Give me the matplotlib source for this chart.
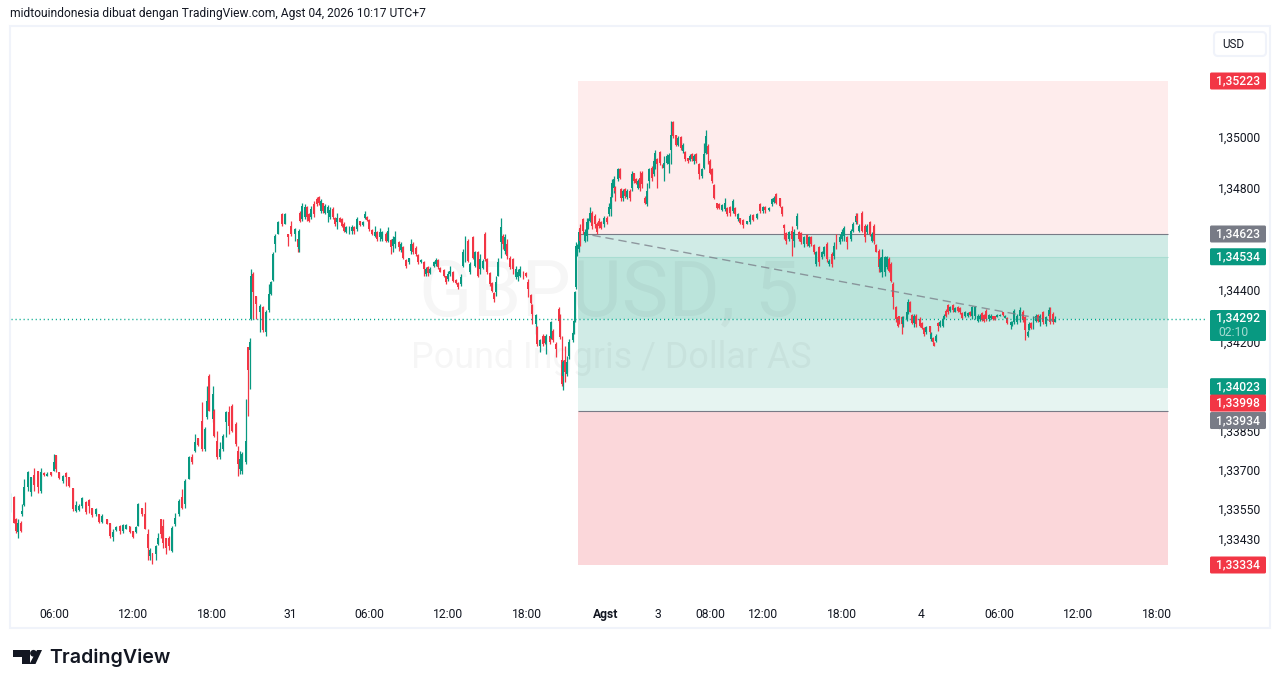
"""GBPUSD 5 minute chart with two position tools, TradingView snapshot look."""

import math

import matplotlib

matplotlib.use("Agg")
import matplotlib.pyplot as plt
from matplotlib.patches import Circle, FancyBboxPatch, Polygon, Rectangle
from matplotlib.ticker import NullLocator
from matplotlib.transforms import ScaledTranslation

plt.rcParams["font.family"] = ["Roboto", "DejaVu Sans"]

GREEN = "#089981"
RED = "#f23645"
GREY = "#787b86"
INK = "#131722"
BORDER = "#f0f3fa"

# candle data, bar = number of 5 minute bars after the first 06:00, prices in 1e-5
bars = [
    -40, -37, -35, -33, -30, -29, -27, -24, -21, -18, -15, -12, -9, -6, -3, 0, 2, 5, 8, 11, 14, 17, 20, 23, 26, 29, 32, 35, 38, 41,
    44, 48, 51, 54, 57, 60, 63, 66, 69, 72, 75, 77, 80, 83, 86, 88, 90, 93, 95, 98, 100, 102, 105, 108, 111, 114, 117, 120, 123, 126,
    129, 132, 135, 138, 140, 142, 145, 146, 149, 152, 154, 157, 160, 163, 166, 168, 170, 172, 175, 177, 179, 180, 182, 185, 188, 191, 194, 196, 198, 200,
    202, 205, 208, 211, 214, 217, 220, 223,
    224, 225, 227, 229, 231, 233, 235, 238, 240, 242, 244, 246, 248, 250, 252, 255, 257, 259, 261, 263, 265, 267, 270, 272, 274, 277, 280, 282, 284, 286,
    288, 291, 293, 295, 298, 300, 303, 305, 308, 310, 312, 315, 317, 319, 322, 324, 326, 328, 331, 333, 335, 338, 340, 342, 344, 347, 349, 351, 353, 356,
    358, 360, 362, 365, 367, 369, 372, 374, 376, 378, 380, 383, 385, 387, 389, 392, 394, 396, 398, 400, 402, 404, 406, 408, 410, 412, 414, 417, 419, 422,
    424, 426, 429, 431, 433, 436, 437, 440, 441, 444, 447, 449, 450, 453, 454, 456, 459, 461, 462, 464, 465, 467, 469, 471, 474, 475,
    476, 477, 478, 480, 481, 483, 485, 487, 488, 490, 492, 494, 496, 498, 500, 503, 505, 507, 509, 510, 512, 513, 515, 517, 518, 520, 522, 524, 526, 528,
    530, 532, 534, 535, 537, 540, 542, 544, 546, 548, 549, 551, 554, 556, 557, 560, 562, 564, 566, 568, 570, 573, 575, 577, 579, 581, 583, 585, 587, 589,
    592, 594, 596, 598, 599, 601, 603, 606, 608, 610, 613, 615, 618, 620, 622, 625, 627, 630, 633, 636, 639, 642, 645, 648, 650, 653, 656, 658, 660, 663,
    665, 667, 669, 672, 674, 676, 679, 681, 683, 685, 688, 690, 692, 694, 696, 699, 702, 704, 706, 708, 711, 713, 715, 718, 720, 722, 725, 728, 730, 733,
    734, 736, 738, 741, 743, 746, 747, 749, 751, 754, 755, 757, 759, 761, 763, 765, 767, 769, 771,
    772, 775, 776, 779, 780, 782, 784, 786, 788, 791, 793, 795, 797, 800, 801, 803, 804, 806, 808, 810, 812, 813, 815, 817, 819, 821, 823, 826, 828, 830,
    832, 835, 837, 839, 842, 844, 846, 848, 850, 852, 854, 856, 858, 860, 862, 864, 867, 869, 871, 874, 875, 877, 880, 883, 885, 887, 890, 891, 893, 895,
    897, 899, 901, 904, 906, 909, 910, 913, 915,
]
highs = [
    133612, 133602, 133517, 133511, 133505, 133570, 133667, 133700, 133674, 133709, 133700, 133709, 133693, 133693, 133696, 133763, 133761, 133693, 133683, 133696,
    133677, 133631, 133583, 133570, 133599, 133583, 133589, 133557, 133557, 133530, 133530, 133511, 133498, 133472, 133485, 133488, 133492, 133492, 133485, 133466,
    133485, 133573, 133557, 133579, 133472, 133401, 133381, 133410, 133459, 133514, 133511, 133440, 133446, 133485, 133537, 133589, 133628, 133667, 133758, 133765,
    133842, 133829, 133966, 133868, 134031, 134077, 134031, 133940, 133856, 133810, 133842, 133934, 133953, 133959, 133888, 133797, 133778, 133771, 133979, 134181,
    134216, 134486, 134473, 134382, 134350, 134343, 134324, 134427, 134440, 134551, 134623, 134675, 134707, 134707, 134623, 134675, 134648, 134603,
    134642, 134713, 134746, 134740, 134733, 134707, 134733, 134752, 134766, 134772, 134759, 134746, 134740, 134736, 134727, 134727, 134688, 134707, 134688, 134684,
    134668, 134655, 134655, 134658, 134655, 134691, 134675, 134675, 134713, 134694, 134681, 134642, 134655, 134636, 134645, 134636, 134629, 134652, 134603, 134616,
    134636, 134597, 134590, 134577, 134525, 134531, 134603, 134590, 134577, 134544, 134525, 134519, 134492, 134499, 134492, 134519, 134528, 134525, 134492, 134486,
    134460, 134479, 134496, 134479, 134447, 134434, 134467, 134564, 134616, 134603, 134512, 134616, 134558, 134558, 134545, 134525, 134629, 134531, 134473, 134434,
    134395, 134460, 134531, 134684, 134623, 134623, 134603, 134538, 134531, 134496, 134486, 134496, 134479, 134473, 134447, 134388, 134349, 134310, 134265, 134213,
    134232, 134226, 134232, 134226, 134284, 134252, 134200, 134337, 134310, 134226, 134129, 134187, 134148, 134213, 134245, 134291,
    134401, 134590, 134584, 134642, 134661, 134687, 134642, 134687, 134687, 134730, 134713, 134700, 134668, 134687, 134674, 134694, 134694, 134746, 134785, 134837,
    134850, 134811, 134882, 134882, 134805, 134798, 134805, 134798, 134798, 134869, 134863, 134843, 134837, 134869, 134869, 134772, 134824, 134882, 134889, 134921,
    134954, 134921, 134947, 134896, 134928, 134935, 134941, 135067, 135067, 135012, 135006, 135006, 134980, 134947, 134921, 134935, 134941, 134935, 134941, 134902,
    134882, 134980, 135032, 134974, 134915, 134883, 134818, 134746, 134746, 134740, 134765, 134727, 134733, 134759, 134727, 134707, 134687, 134681, 134675, 134701,
    134701, 134707, 134743, 134733, 134733, 134727, 134765, 134772, 134782, 134765, 134733, 134662, 134629, 134636, 134655, 134642, 134707, 134636, 134629, 134616,
    134622, 134616, 134616, 134584, 134557, 134577, 134557, 134577, 134590, 134525, 134551, 134590, 134622, 134622, 134642, 134655, 134616, 134642, 134668, 134707,
    134707, 134661, 134713, 134661, 134661, 134674, 134629, 134661, 134584, 134564, 134532, 134564, 134538, 134538, 134532, 134512, 134434, 134343, 134304,
    134304, 134304, 134304, 134323, 134369, 134363, 134310, 134310, 134310, 134298, 134278, 134259, 134265, 134265, 134239, 134220, 134200, 134233, 134278, 134285,
    134298, 134310, 134330, 134350, 134343, 134350, 134336, 134343, 134336, 134317, 134323, 134317, 134323, 134343, 134343, 134310, 134310, 134317, 134310, 134330,
    134310, 134310, 134304, 134304, 134310, 134310, 134320, 134307, 134298, 134284, 134284, 134330, 134310, 134337, 134324, 134304, 134246, 134278, 134278, 134304,
    134310, 134310, 134310, 134323, 134304, 134337, 134337, 134317, 134304,
]
lows = [
    133540, 133498, 133459, 133440, 133462, 133524, 133563, 133622, 133602, 133622, 133615, 133615, 133680, 133680, 133680, 133700, 133693, 133667, 133654, 133641,
    133635, 133544, 133540, 133544, 133557, 133533, 133537, 133521, 133524, 133498, 133498, 133492, 133440, 133427, 133466, 133453, 133459, 133472, 133459, 133440,
    133459, 133485, 133524, 133472, 133355, 133355, 133336, 133355, 133413, 133440, 133401, 133375, 133394, 133384, 133485, 133524, 133550, 133557, 133667, 133726,
    133771, 133797, 133778, 133778, 133901, 133934, 133888, 133830, 133745, 133745, 133778, 133830, 133842, 133849, 133797, 133680, 133687, 133687, 133725, 133914,
    134018, 134285, 134291, 134291, 134239, 134239, 134226, 134317, 134385, 134440, 134551, 134623, 134655, 134661, 134577, 134616, 134597, 134554,
    134554, 134668, 134675, 134681, 134675, 134668, 134681, 134688, 134733, 134736, 134707, 134707, 134700, 134668, 134681, 134681, 134655, 134642, 134668, 134649,
    134629, 134626, 134623, 134623, 134623, 134636, 134655, 134655, 134681, 134675, 134636, 134619, 134610, 134597, 134597, 134597, 134590, 134590, 134545, 134551,
    134570, 134557, 134551, 134525, 134489, 134505, 134544, 134544, 134538, 134505, 134510, 134460, 134460, 134460, 134467, 134492, 134499, 134486, 134473, 134454,
    134428, 134440, 134460, 134434, 134428, 134408, 134421, 134492, 134512, 134512, 134467, 134525, 134492, 134454, 134467, 134486, 134519, 134467, 134421, 134395,
    134359, 134382, 134460, 134531, 134564, 134545, 134525, 134486, 134467, 134447, 134440, 134454, 134447, 134454, 134375, 134349, 134271, 134232, 134187, 134161,
    134187, 134194, 134155, 134194, 134213, 134200, 134141, 134278, 134213, 134031, 134012, 134044, 134070, 134135, 134200, 134232,
    134278, 134408, 134538, 134551, 134577, 134622, 134590, 134597, 134642, 134668, 134642, 134648, 134622, 134648, 134642, 134652, 134661, 134694, 134694, 134769,
    134785, 134752, 134830, 134837, 134752, 134752, 134765, 134759, 134752, 134791, 134824, 134817, 134798, 134791, 134805, 134740, 134733, 134805, 134830, 134850,
    134876, 134805, 134895, 134883, 134831, 134896, 134863, 134896, 134999, 134967, 134967, 134954, 134941, 134909, 134902, 134909, 134909, 134896, 134902, 134837,
    134841, 134876, 134935, 134896, 134857, 134824, 134759, 134720, 134720, 134713, 134713, 134694, 134694, 134707, 134694, 134675, 134662, 134648, 134662, 134662,
    134675, 134681, 134707, 134707, 134707, 134713, 134733, 134746, 134740, 134727, 134694, 134603, 134583, 134597, 134538, 134571, 134642, 134597, 134583, 134571,
    134577, 134571, 134577, 134545, 134499, 134499, 134525, 134538, 134512, 134499, 134493, 134525, 134564, 134583, 134597, 134597, 134564, 134597, 134629, 134661,
    134661, 134629, 134629, 134590, 134622, 134616, 134590, 134583, 134551, 134473, 134473, 134453, 134460, 134486, 134473, 134434, 134330, 134278, 134258,
    134271, 134233, 134259, 134284, 134310, 134317, 134271, 134259, 134259, 134259, 134252, 134226, 134233, 134233, 134206, 134193, 134184, 134200, 134245, 134259,
    134259, 134291, 134298, 134310, 134317, 134317, 134317, 134317, 134310, 134291, 134298, 134298, 134304, 134291, 134291, 134278, 134284, 134284, 134281, 134284,
    134284, 134291, 134288, 134288, 134298, 134301, 134304, 134294, 134272, 134252, 134265, 134272, 134272, 134278, 134278, 134210, 134220, 134246, 134252, 134252,
    134278, 134278, 134265, 134272, 134265, 134298, 134272, 134272, 134278,
]
opens = [
    133544, 133596, 133514, 133462, 133498, 133530, 133566, 133635, 133618, 133683, 133700, 133622, 133690, 133680, 133693, 133700, 133761, 133693, 133661, 133690,
    133677, 133631, 133544, 133547, 133563, 133579, 133586, 133557, 133530, 133530, 133501, 133511, 133498, 133443, 133469, 133485, 133466, 133475, 133485, 133466,
    133462, 133485, 133557, 133530, 133456, 133368, 133381, 133375, 133417, 133511, 133485, 133440, 133440, 133388, 133492, 133530, 133596, 133570, 133667, 133752,
    133778, 133826, 133895, 133784, 133907, 134070, 133901, 133934, 133817, 133752, 133784, 133888, 133927, 133953, 133882, 133778, 133706, 133700, 133732, 134181,
    134168, 134291, 134467, 134382, 134317, 134337, 134239, 134324, 134388, 134445, 134584, 134623, 134700, 134661, 134623, 134655, 134623, 134603,
    134564, 134707, 134681, 134688, 134727, 134700, 134688, 134740, 134759, 134766, 134713, 134743, 134707, 134707, 134688, 134720, 134684, 134668, 134684, 134681,
    134662, 134629, 134629, 134636, 134652, 134642, 134672, 134658, 134684, 134691, 134678, 134639, 134616, 134632, 134610, 134603, 134623, 134597, 134600, 134577,
    134583, 134590, 134561, 134571, 134522, 134512, 134557, 134584, 134570, 134541, 134512, 134515, 134467, 134492, 134470, 134499, 134505, 134522, 134490, 134483,
    134457, 134447, 134467, 134473, 134444, 134431, 134428, 134499, 134519, 134597, 134473, 134610, 134499, 134551, 134486, 134489, 134623, 134525, 134470, 134431,
    134392, 134395, 134460, 134590, 134616, 134557, 134584, 134531, 134525, 134454, 134454, 134460, 134476, 134470, 134434, 134385, 134346, 134271, 134258, 134187,
    134226, 134223, 134194, 134223, 134216, 134245, 134194, 134330, 134304, 134129, 134070, 134129, 134076, 134148, 134207, 134239,
    134285, 134415, 134551, 134564, 134648, 134681, 134597, 134616, 134648, 134674, 134707, 134694, 134661, 134674, 134668, 134661, 134687, 134701, 134720, 134778,
    134805, 134808, 134837, 134879, 134801, 134762, 134798, 134769, 134791, 134805, 134860, 134840, 134805, 134843, 134863, 134765, 134740, 134830, 134882, 134857,
    134889, 134915, 134944, 134893, 134883, 134902, 134896, 134954, 135061, 135009, 134973, 135003, 134947, 134944, 134919, 134912, 134935, 134909, 134935, 134896,
    134850, 134883, 134941, 134967, 134909, 134876, 134814, 134743, 134741, 134717, 134720, 134724, 134729, 134713, 134724, 134681, 134685, 134678, 134664, 134668,
    134697, 134684, 134740, 134713, 134730, 134716, 134740, 134749, 134778, 134762, 134730, 134658, 134626, 134603, 134636, 134597, 134655, 134632, 134625, 134584,
    134619, 134577, 134612, 134580, 134505, 134571, 134532, 134545, 134584, 134505, 134545, 134538, 134616, 134590, 134603, 134616, 134612, 134603, 134636, 134668,
    134701, 134636, 134707, 134655, 134629, 134668, 134597, 134655, 134580, 134557, 134486, 134473, 134473, 134492, 134525, 134505, 134427, 134336, 134298,
    134301, 134298, 134271, 134291, 134317, 134356, 134307, 134275, 134304, 134291, 134275, 134256, 134242, 134262, 134213, 134217, 134197, 134203, 134275, 134262,
    134265, 134294, 134323, 134346, 134323, 134346, 134320, 134339, 134333, 134314, 134301, 134304, 134320, 134304, 134304, 134284, 134291, 134313, 134307, 134323,
    134291, 134294, 134301, 134303, 134300, 134304, 134317, 134296, 134295, 134268, 134269, 134278, 134278, 134304, 134317, 134298, 134223, 134249, 134275, 134259,
    134284, 134307, 134278, 134317, 134271, 134304, 134311, 134311, 134281,
]
closes = [
    133602, 133498, 133466, 133498, 133466, 133544, 133635, 133696, 133674, 133644, 133635, 133693, 133683, 133688, 133685, 133735, 133706, 133670, 133680, 133674,
    133641, 133550, 133566, 133563, 133592, 133540, 133563, 133527, 133550, 133501, 133524, 133493, 133446, 133462, 133483, 133466, 133488, 133489, 133462, 133443,
    133483, 133570, 133530, 133472, 133401, 133394, 133355, 133407, 133440, 133453, 133420, 133401, 133407, 133478, 133517, 133583, 133557, 133661, 133752, 133732,
    133810, 133799, 133784, 133862, 133972, 133934, 134000, 133836, 133752, 133784, 133836, 133927, 133875, 133856, 133804, 133726, 133745, 133765, 133817, 134090,
    134200, 134460, 134395, 134350, 134343, 134246, 134317, 134388, 134437, 134545, 134616, 134668, 134661, 134700, 134610, 134623, 134642, 134571,
    134636, 134675, 134733, 134727, 134688, 134675, 134720, 134700, 134740, 134746, 134752, 134713, 134733, 134727, 134717, 134688, 134662, 134684, 134671, 134655,
    134636, 134652, 134649, 134652, 134636, 134681, 134659, 134671, 134700, 134678, 134642, 134623, 134629, 134603, 134629, 134629, 134597, 134636, 134571, 134603,
    134613, 134571, 134584, 134528, 134496, 134528, 134584, 134554, 134544, 134512, 134522, 134486, 134486, 134470, 134486, 134515, 134522, 134492, 134476, 134460,
    134434, 134467, 134479, 134440, 134431, 134414, 134454, 134551, 134597, 134519, 134505, 134531, 134551, 134460, 134525, 134519, 134525, 134476, 134428, 134401,
    134369, 134434, 134512, 134649, 134584, 134610, 134538, 134492, 134486, 134486, 134473, 134486, 134457, 134457, 134408, 134353, 134310, 134307, 134194, 134207,
    134194, 134197, 134226, 134200, 134278, 134210, 134174, 134284, 134220, 134038, 134122, 134083, 134122, 134200, 134236, 134284,
    134395, 134577, 134577, 134629, 134597, 134636, 134629, 134668, 134681, 134707, 134655, 134661, 134629, 134655, 134648, 134687, 134668, 134727, 134769, 134824,
    134837, 134791, 134876, 134844, 134765, 134791, 134772, 134791, 134762, 134857, 134830, 134821, 134830, 134805, 134817, 134743, 134791, 134876, 134843, 134908,
    134941, 134896, 134902, 134886, 134902, 134928, 134931, 135012, 135006, 134973, 134999, 134961, 134973, 134915, 134909, 134928, 134915, 134928, 134909, 134857,
    134876, 134935, 135006, 134935, 134863, 134830, 134765, 134723, 134725, 134736, 134746, 134701, 134704, 134752, 134701, 134701, 134665, 134658, 134672, 134694,
    134678, 134701, 134713, 134727, 134716, 134724, 134759, 134765, 134746, 134733, 134701, 134645, 134596, 134629, 134603, 134629, 134694, 134603, 134593, 134610,
    134584, 134610, 134584, 134551, 134551, 134512, 134551, 134571, 134525, 134519, 134505, 134577, 134577, 134610, 134629, 134648, 134590, 134636, 134661, 134694,
    134674, 134655, 134636, 134610, 134655, 134622, 134622, 134596, 134554, 134492, 134525, 134532, 134532, 134532, 134480, 134440, 134375, 134291, 134265,
    134275, 134271, 134298, 134317, 134359, 134320, 134275, 134304, 134271, 134265, 134255, 134233, 134261, 134239, 134233, 134200, 134187, 134226, 134262, 134278,
    134291, 134304, 134301, 134317, 134336, 134327, 134333, 134323, 134317, 134295, 134317, 134313, 134308, 134336, 134336, 134304, 134304, 134288, 134284, 134291,
    134307, 134304, 134291, 134291, 134308, 134308, 134307, 134304, 134275, 134281, 134281, 134323, 134304, 134327, 134288, 134249, 134239, 134271, 134255, 134298,
    134304, 134284, 134304, 134278, 134298, 134327, 134278, 134281, 134292,
]

# position tools: price bands and their fill colours
zone_tops = [1.35223, 1.34623, 1.34534, 1.34292, 1.34023, 1.33934]
zone_bottoms = [1.34623, 1.34534, 1.34292, 1.34023, 1.33934, 1.33334]
zone_colors = ["#feecec", "#d0ebe6", "#bbe4db", "#d0ebe6", "#e6f4f1", "#fbd7da"]
zone_bars = [479, 1018]

last_price = 1.34292
trend_bars = [492, 913]
trend_prices = [1.34618, 1.34283]

# axis labels
time_ticks = [0, 72, 144, 216, 288, 360, 432, 504, 552, 600, 648, 720, 792, 864, 936, 1008]
time_labels = ["06:00", "12:00", "18:00", "31", "06:00", "12:00", "18:00", "Agst", "3",
               "08:00", "12:00", "18:00", "4", "06:00", "12:00", "18:00"]
price_ticks = [1.35, 1.348, 1.344, 1.342, 1.3385, 1.337, 1.3355, 1.3343]

# coloured price tags, shift in pixels where TradingView pushes overlapping tags apart
tag_prices = [1.35223, 1.34623, 1.34534, 1.34023, 1.33998, 1.33934, 1.33334]
tag_colors = [RED, GREY, GREEN, GREEN, RED, GREY, RED]
tag_shifts = [0, 0, 0, -1, 9, 10, 0]

WIDTH, HEIGHT = 1281, 688
PANE_LEFT, PANE_RIGHT, PANE_TOP, PANE_BOTTOM = 11, 1206, 27, 600
PX_PER_BAR = 1.0944
# the price scale is logarithmic, pinned on the two outer tool levels
LOG_TOP, LOG_BOTTOM = math.log(1.35223), math.log(1.33334)
PX_PER_LOG = (565 - 81) / (LOG_TOP - LOG_BOTTOM)


def bar_at(x_px):
    return (x_px - 54) / PX_PER_BAR


def price_at(y_px):
    return math.exp(LOG_TOP - (y_px - 81) / PX_PER_LOG)


def y_of(price):
    return 81 + (LOG_TOP - math.log(price)) * PX_PER_LOG


def fmt_price(price):
    return f"{price:.5f}".replace(".", ",")


fig = plt.figure(figsize=(WIDTH / 100, HEIGHT / 100), dpi=100, facecolor="white")
ax = fig.add_axes([
    PANE_LEFT / WIDTH,
    1 - PANE_BOTTOM / HEIGHT,
    (PANE_RIGHT - PANE_LEFT) / WIDTH,
    (PANE_BOTTOM - PANE_TOP) / HEIGHT,
])
ax.set_yscale("log")
ax.set_xlim(bar_at(PANE_LEFT), bar_at(PANE_RIGHT))
ax.set_ylim(price_at(PANE_BOTTOM), price_at(PANE_TOP))
for spine in ax.spines.values():
    spine.set_visible(False)

for top_price, bottom_price, color in zip(zone_tops, zone_bottoms, zone_colors):
    ax.fill_between(zone_bars, bottom_price, top_price, color=color, lw=0, zorder=1)
ax.hlines([1.34623, 1.33934], *zone_bars, color=GREY, lw=0.8, zorder=2)
ax.hlines(1.34534, *zone_bars, color="#a9ddd2", lw=0.8, zorder=2)

# watermark sits under the candles
ax.text(bar_at(609), price_at(316), "GBPUSD, 5", ha="center", va="baseline", fontsize=56.5,
        color="black", alpha=0.035, zorder=2)
ax.text(bar_at(611), price_at(368), "Pound Inggris / Dollar AS", ha="center", va="baseline",
        fontsize=25.8, color="black", alpha=0.035, zorder=2)

assert len(bars) == len(opens) == len(highs) == len(lows) == len(closes), (
    len(bars), len(opens), len(highs), len(lows), len(closes))
candle_colors = [GREEN if c >= o else RED for o, c in zip(opens, closes)]
ax.vlines(bars, [v / 1e5 for v in lows], [v / 1e5 for v in highs], color=candle_colors, lw=0.9, zorder=3)
body_low = [min(o, c) / 1e5 for o, c in zip(opens, closes)]
body_height = [abs(c - o) / 1e5 for o, c in zip(opens, closes)]
ax.bar(bars, body_height, bottom=body_low, width=1.8, color=candle_colors, lw=0, zorder=3)

ax.plot(trend_bars, trend_prices, color=GREY, alpha=0.75, lw=1.0, linestyle=(0, (6, 3.5)), zorder=4)
# snap off keeps the small dots teal instead of washing them out
ax.axhline(last_price, color="#00a88c", lw=1.0, linestyle=(0, (0.8, 2.1)), zorder=4, snap=True)

ax.set_xticks(time_ticks, time_labels)
ax.set_yticks(price_ticks, [fmt_price(p) for p in price_ticks])
ax.yaxis.set_minor_locator(NullLocator())
ax.tick_params(axis="x", length=0, pad=6, labelsize=8.7, labelcolor=INK)
ax.tick_params(axis="y", left=False, right=False, labelleft=False, labelright=True, length=0,
               pad=8.6, labelsize=8.7, labelcolor=INK)
ax.get_xticklabels()[time_labels.index("Agst")].set_fontweight("bold")
# nudge price labels up, the browser centres them a pixel higher
for tick_label in ax.get_yticklabels():
    tick_label.set_transform(tick_label.get_transform() + ScaledTranslation(0, 1.0 / 100, fig.dpi_scale_trans))

# chrome in pixel coordinates: frame, header, price tags, logo
top = fig.add_axes([0, 0, 1, 1], zorder=5)
top.set_xlim(0, WIDTH)
top.set_ylim(HEIGHT, 0)
top.axis("off")
top.patch.set_alpha(0)

top.add_patch(Rectangle((10, 26), 1260, 602, fill=False, edgecolor=BORDER, lw=1.5))
top.text(10, 14, "midtouindonesia dibuat dengan TradingView.com, Agst 04, 2026 10:17 UTC+7",
         fontsize=8.66, color=INK, va="center", ha="left")

top.add_patch(FancyBboxPatch((1214, 32), 52, 24, boxstyle="round,pad=0,rounding_size=4",
                             facecolor="white", edgecolor=BORDER, lw=1.5))
top.text(1222, 44.5, "USD", fontsize=8.4, color=INK, va="center")


def price_tag(y_center, height, color):
    top.add_patch(FancyBboxPatch((1210, y_center - height / 2), 56, height,
                                 boxstyle="round,pad=0,rounding_size=1.5", facecolor=color, lw=0))


for price, color, shift in zip(tag_prices, tag_colors, tag_shifts):
    y = y_of(price) + shift
    price_tag(y, 17, color)
    top.text(1238, y, fmt_price(price), color="white", fontsize=8.7, ha="center", va="center",
             fontweight="medium")

# last price tag holds the countdown too
price_tag(325.5, 31, GREEN)
top.text(1238, 317.5, fmt_price(last_price), color="white", fontsize=8.7, ha="center", va="center",
         fontweight="medium")
top.text(1218, 332.5, "02:10", color="#a5dcd2", fontsize=8.7, ha="left", va="center")

# TradingView mark
top.add_patch(Polygon([(13, 650), (30, 650), (30, 664), (22, 664), (22, 657), (13, 657)],
                      facecolor=INK, lw=0))
top.add_patch(Circle((33.5, 653.3), 3.4, facecolor=INK, lw=0))
top.add_patch(Polygon([(37, 650), (42, 650), (35.5, 664), (29.5, 664)], facecolor=INK, lw=0))
top.text(49.5, 658, "TradingView", fontsize=14.1, color=INK, family=["Inter", "DejaVu Sans"],
         fontweight="semibold", va="center", ha="left")

fig.savefig("out.png", dpi=100)
